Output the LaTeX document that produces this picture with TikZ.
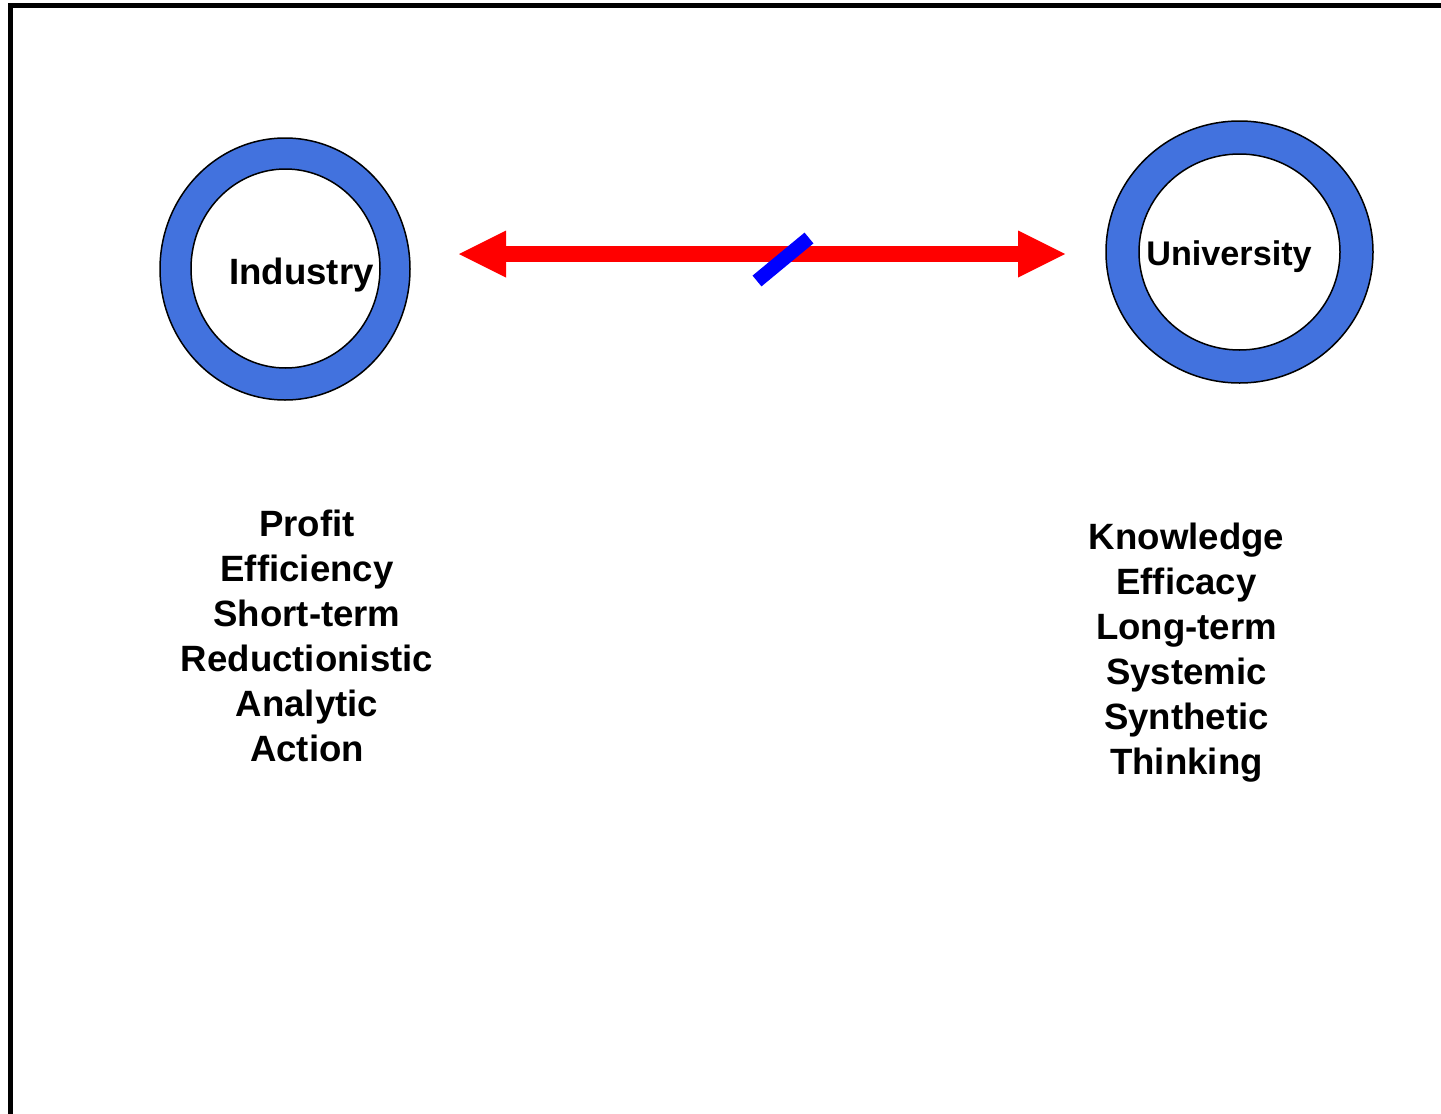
\documentclass[tikz,border=0pt]{standalone}
\usepackage{fontspec}
\setmainfont{Liberation Sans}
\usepackage{xcolor}
\usepackage{tikz}
\usetikzlibrary{shapes.geometric, arrows.meta, positioning}
\definecolor{ringblue}{RGB}{66,114,222}
\tikzstyle{ring} = [ellipse, draw=black, line width=1.5pt, fill=ringblue, inner sep=0pt]
\tikzstyle{hole} = [ellipse, draw=black, line width=1.5pt, fill=white, inner sep=0pt]
\tikzstyle{title} = [font=\fontsize{36.6}{45}\selectfont\bfseries, inner sep=0pt, anchor=base]
\tikzstyle{traits} = [font=\fontsize{36.6}{45}\selectfont\bfseries, align=center, inner sep=0pt]
\tikzstyle{bigarrow} = [line width=16pt, red, {Triangle[length=47pt,width=47pt,line width=0pt]}-{Triangle[length=47pt,width=47pt,line width=0pt]}]
\tikzstyle{bar} = [line width=14pt, blue]

\begin{document}
\begin{tikzpicture}[x=1pt, y=-1pt]
        \useasboundingbox (0,0) rectangle (1441,1114);
        % Frame
        \draw [line width=5pt] (10.5,1114) -- (10.5,5.5) -- (1441,5.5);

        % Nodes
        \node (ind) [ring, minimum width=250pt, minimum height=262pt] at (285,269) {};
        \node (indin) [hole, minimum width=189pt, minimum height=199pt] at (285.5,268.5) {};
        \node (indname) [title] at (301.5,284) {Industry};

        \node (uni) [ring, minimum width=267pt, minimum height=262pt] at (1239.5,252) {};
        \node (uniin) [hole, minimum width=201pt, minimum height=196pt] at (1239.5,252) {};
        \node (uniname) [title, font=\fontsize{34.2}{42}\selectfont\bfseries] at (1229,265) {University};

        \node (indlist) [traits] at (307,635.5) {Profit\\Efficiency\\Short-term\\Reductionistic\\Analytic\\Action};
        \node (unilist) [traits] at (1186.5,653) {Knowledge\\Efficacy\\Long-term\\Systemic\\Synthetic\\Thinking};

        % Arrows
        \coordinate (tipL) at (459,254);
        \coordinate (tipR) at (1065,254);
        \draw [bigarrow] (tipL) -- (tipR);
        \draw [bar] (757,281) -- (809,238);
    \end{tikzpicture}
\end{document}
